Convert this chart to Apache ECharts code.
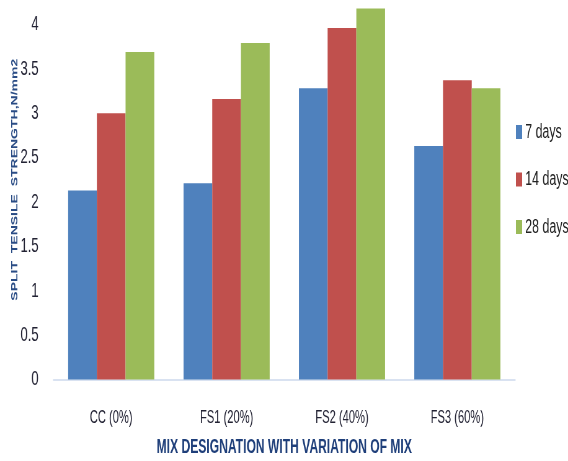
<!DOCTYPE html>
<html>
<head>
<meta charset="utf-8">
<script src="https://cdn.jsdelivr.net/npm/echarts@6/dist/echarts.min.js"></script>
<style>
  html, body { margin: 0; padding: 0; background: #ffffff; overflow: hidden; }
  #wrap { width: 568px; height: 461px; overflow: hidden; }
  /* the chart is laid out wide and then condensed horizontally */
  #chart { width: 916px; height: 461px; transform: scaleX(0.62009); transform-origin: 0 0; }
</style>
</head>
<body>
<div id="wrap"><div id="chart"></div></div>
<script>
// Split tensile strength (N/mm2) by mix designation and curing age
const categories = ['CC (0%)', 'FS1 (20%)', 'FS2 (40%)', 'FS3 (60%)'];
const seriesNames = ['7 days', '14 days', '28 days'];
const days7  = [2.13, 2.21, 3.28, 2.63];
const days14 = [3.00, 3.16, 3.96, 3.37];
const days28 = [3.69, 3.79, 4.18, 3.28];
const colors = ['#4F81BD', '#C0504D', '#9BBB59'];
const yTitle = 'SPLIT  TENSILE  STRENGTH,N/mm2';
const xTitle = 'MIX DESIGNATION WITH VARIATION OF MIX';

const values = [days7, days14, days28];
const font = 'Liberation Sans, Arial, sans-serif';

const chart = echarts.init(document.getElementById('chart'), null, { renderer: 'canvas' });
chart.setOption({
  animation: false,
  backgroundColor: '#ffffff',
  grid: { left: 86.3, right: 85.4, top: -20, bottom: 81.5, containLabel: false, outerBoundsMode: 'none' },
  legend: {
    orient: 'vertical',
    left: 827,
    top: 117,
    icon: 'rect',
    itemWidth: 10,
    itemHeight: 14,
    itemGap: 27.5,
    textStyle: { fontFamily: font, fontSize: 20, color: '#222222' },
    data: seriesNames
  },
  xAxis: {
    type: 'category',
    data: categories,
    axisLine: { show: true, lineStyle: { color: '#D9E2F1', width: 2 } },
    axisTick: { show: false },
    axisLabel: { margin: 30, fontFamily: font, fontSize: 18, color: '#222233' },
    name: xTitle,
    nameLocation: 'middle',
    nameGap: 58,
    nameMoveOverlap: false,
    nameTextStyle: { fontFamily: font, fontSize: 19.5, fontWeight: 'bold', color: '#1F3F7A' }
  },
  yAxis: {
    type: 'value',
    min: 0,
    max: 4.5,
    interval: 0.5,
    axisLine: { show: false },
    axisTick: { show: false },
    splitLine: { show: false },
    axisLabel: { margin: 24, fontFamily: font, fontSize: 21, color: '#222233' },
    name: yTitle,
    nameLocation: 'middle',
    nameRotate: 90,
    nameGap: 55,
    nameMoveOverlap: false,
    nameTextStyle: { fontFamily: font, fontSize: 14, fontWeight: 'bold', color: '#2A4C85' }
  },
  series: seriesNames.map((n, i) => ({
    name: n,
    type: 'bar',
    data: values[i],
    barWidth: 46.3,
    barGap: '0%',
    itemStyle: { color: colors[i] }
  }))
});
</script>
</body>
</html>
